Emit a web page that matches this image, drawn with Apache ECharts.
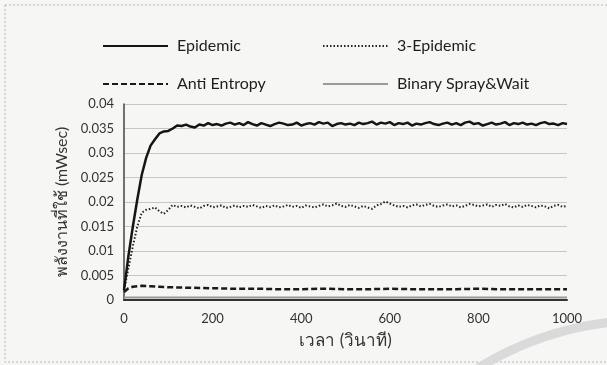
<!DOCTYPE html>
<html><head><meta charset="utf-8">
<script src="https://cdn.jsdelivr.net/npm/echarts@6/dist/echarts.min.js"></script>
<style>html,body{margin:0;padding:0;background:#f6f6f4}#c{width:607px;height:365px}</style>
</head><body><div id="c"></div>
<script>
const seriesNames = ['Epidemic', '3-Epidemic', 'Anti Entropy', 'Binary Spray&Wait'];
const xTime = [0,10,20,30,40,50,60,70,80,90,100,110,120,130,140,150,160,170,180,190,200,210,220,230,240,250,260,270,280,290,300,310,320,330,340,350,360,370,380,390,400,410,420,430,440,450,460,470,480,490,500,510,520,530,540,550,560,570,580,590,600,610,620,630,640,650,660,670,680,690,700,710,720,730,740,750,760,770,780,790,800,810,820,830,840,850,860,870,880,890,900,910,920,930,940,950,960,970,980,990,1000];
const epidemic = [0.0020,0.0090,0.0150,0.0205,0.0255,0.0290,0.0315,0.0328,0.0340,0.0344,0.0345,0.0350,0.0356,0.0355,0.0358,0.0354,0.0352,0.0358,0.0356,0.0361,0.0357,0.0359,0.0356,0.0360,0.0362,0.0358,0.0361,0.0357,0.0363,0.0359,0.0356,0.0361,0.0358,0.0355,0.0359,0.0362,0.0360,0.0357,0.0358,0.0362,0.0356,0.0359,0.0361,0.0358,0.0363,0.0360,0.0362,0.0355,0.0359,0.0361,0.0358,0.0360,0.0357,0.0362,0.0359,0.0361,0.0364,0.0358,0.0362,0.0360,0.0363,0.0357,0.0361,0.0359,0.0362,0.0356,0.0360,0.0358,0.0361,0.0363,0.0359,0.0357,0.0360,0.0362,0.0358,0.0361,0.0357,0.0362,0.0364,0.0359,0.0361,0.0356,0.0359,0.0362,0.0358,0.0360,0.0363,0.0357,0.0361,0.0359,0.0362,0.0358,0.0360,0.0357,0.0361,0.0363,0.0359,0.0360,0.0357,0.0361,0.0359];
const epidemic3 = [0.0020,0.0065,0.0110,0.0150,0.0178,0.0184,0.0186,0.0189,0.0181,0.0176,0.0184,0.0194,0.0190,0.0192,0.0189,0.0193,0.0190,0.0187,0.0192,0.0194,0.0189,0.0191,0.0193,0.0188,0.0190,0.0193,0.0189,0.0192,0.0190,0.0194,0.0191,0.0188,0.0192,0.0190,0.0193,0.0189,0.0191,0.0194,0.0190,0.0192,0.0188,0.0193,0.0191,0.0189,0.0192,0.0195,0.0191,0.0193,0.0197,0.0192,0.0190,0.0194,0.0191,0.0188,0.0192,0.0189,0.0186,0.0193,0.0196,0.0201,0.0197,0.0193,0.0190,0.0192,0.0189,0.0193,0.0195,0.0191,0.0194,0.0196,0.0192,0.0190,0.0193,0.0195,0.0191,0.0193,0.0189,0.0192,0.0196,0.0194,0.0191,0.0193,0.0195,0.0190,0.0194,0.0192,0.0196,0.0191,0.0189,0.0193,0.0190,0.0194,0.0192,0.0189,0.0193,0.0191,0.0187,0.0192,0.0194,0.0190,0.0192];
const xAnti = [0,10,20,40,60,80,100,150,200,250,300,350,400,450,500,550,600,650,700,750,800,850,900,950,1000];
const antiEntropy = [0.0016,0.0024,0.0027,0.0029,0.0028,0.0027,0.0026,0.0025,0.0024,0.0023,0.0023,0.0022,0.0022,0.0023,0.0022,0.0022,0.0023,0.0022,0.0022,0.0022,0.0023,0.0022,0.0022,0.0022,0.0022];
const xBinary = [0,100,200,300,400,500,600,700,800,900,1000];
const binary = [0.0005,0.0005,0.0005,0.0005,0.0005,0.0005,0.0005,0.0005,0.0005,0.0005,0.0005];
const xTitle = 'เวลา (วินาที)';
const yTitle = 'พลังงานที่ใช้ (mWsec)';

const pair = (xs, ys) => xs.map((x, i) => [x, ys[i]]);
const font = 'Lato, "Noto Sans", sans-serif';
const chart = echarts.init(document.getElementById('c'));
const legendBase = {itemWidth: 65, itemHeight: 14, itemStyle: {opacity: 0}, textStyle: {fontSize: 16, color: '#1e1e1e', fontFamily: font, padding: [0,0,0,4]}};
chart.setOption({
  backgroundColor: '#f6f6f4',
  animation: false,
  graphic: [
    {type: 'rect', shape: {x: 5, y: 5, width: 610, height: 357}, style: {fill: 'none', stroke: '#b8b8b8', lineWidth: 1, lineDash: [2, 2]}, silent: true, z: -10},
    {type: 'bezierCurve', shape: {x1: 478, y1: 368, cpx1: 540, cpy1: 330, x2: 612, y2: 322}, style: {fill: 'none', stroke: '#dadada', lineWidth: 9}, silent: true, z: -10}
  ],
  legend: [
    Object.assign({}, legendBase, {data: [seriesNames[0]], left: 97, top: 33}),
    Object.assign({}, legendBase, {data: [seriesNames[1]], left: 317, top: 33}),
    Object.assign({}, legendBase, {data: [seriesNames[2]], left: 97, top: 71}),
    Object.assign({}, legendBase, {data: [seriesNames[3]], left: 317, top: 71})
  ],
  grid: {left: 124, right: 40, top: 104, bottom: 65},
  xAxis: {
    type: 'value', min: 0, max: 1000, interval: 200,
    name: xTitle, nameLocation: 'middle', nameGap: 32,
    nameTextStyle: {fontSize: 17, color: '#333', fontFamily: font},
    axisLine: {lineStyle: {color: '#333', width: 2}},
    axisTick: {show: false},
    axisLabel: {fontSize: 13, color: '#333', fontFamily: font, margin: 12, formatter: v => String(v)},
    splitLine: {show: false}
  },
  yAxis: {
    type: 'value', min: 0, max: 0.04, interval: 0.005,
    name: yTitle, nameLocation: 'middle', nameGap: 47, nameRotate: 90,
    nameTextStyle: {fontSize: 16, color: '#333', fontFamily: font},
    axisLine: {show: true, lineStyle: {color: '#444', width: 1.5}},
    axisTick: {show: false},
    axisLabel: {fontSize: 13, color: '#333', fontFamily: font, margin: 10},
    splitLine: {lineStyle: {color: '#c6c6c6', width: 1}}
  },
  series: [
    {name: seriesNames[0], type: 'line', symbol: 'none', data: pair(xTime, epidemic), lineStyle: {color: '#151515', width: 2.5}, itemStyle: {color: '#151515'}, z: 4},
    {name: seriesNames[1], type: 'line', symbol: 'none', data: pair(xTime, epidemic3), lineStyle: {color: '#222', width: 2, type: [1.5, 2]}, itemStyle: {color: '#222'}, z: 3},
    {name: seriesNames[2], type: 'line', symbol: 'none', data: pair(xAnti, antiEntropy), lineStyle: {color: '#1a1a1a', width: 2.5, type: [6, 3]}, itemStyle: {color: '#1a1a1a'}, z: 3},
    {name: seriesNames[3], type: 'line', symbol: 'none', data: pair(xBinary, binary), lineStyle: {color: '#9a9a9a', width: 2}, itemStyle: {color: '#9a9a9a'}, z: 2}
  ]
});
</script></body></html>
